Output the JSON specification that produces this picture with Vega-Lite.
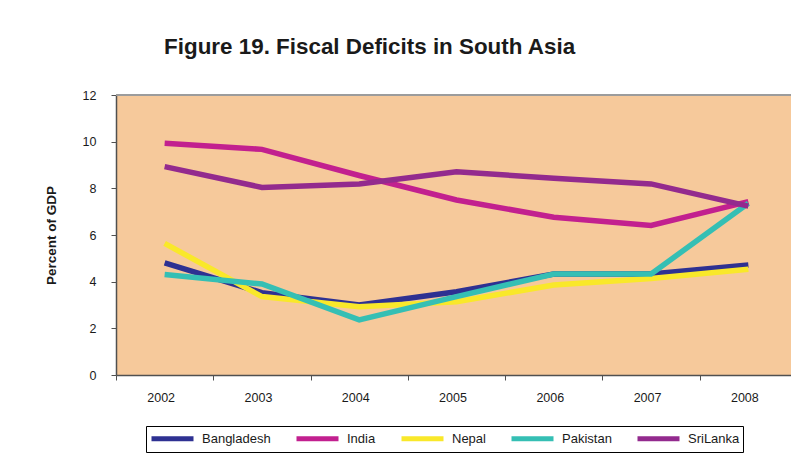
{
  "$schema": "https://vega.github.io/schema/vega-lite/v6.json",
  "width": 675,
  "height": 280,
  "autosize": {"type": "none"},
  "padding": {"left": 116, "top": 95, "right": 0, "bottom": 83},
  "background": "#ffffff",
  "title": {
    "text": "Figure 19. Fiscal Deficits in South Asia",
    "anchor": "start",
    "dx": 120,
    "offset": 31,
    "font": "Liberation Sans, Arial",
    "fontSize": 22.4,
    "fontWeight": "bold",
    "color": "#1a1a1a"
  },
  "config": {
    "view": {"stroke": null, "fill": "#F6C99B"},
    "font": "Liberation Sans, Arial"
  },
  "data": {
    "values": [
      {"year": "2002", "country": "Bangladesh", "value": 4.81},
      {"year": "2003", "country": "Bangladesh", "value": 3.53},
      {"year": "2004", "country": "Bangladesh", "value": 3.0},
      {"year": "2005", "country": "Bangladesh", "value": 3.57},
      {"year": "2006", "country": "Bangladesh", "value": 4.33},
      {"year": "2007", "country": "Bangladesh", "value": 4.33},
      {"year": "2008", "country": "Bangladesh", "value": 4.71},
      {"year": "2002", "country": "India", "value": 9.93},
      {"year": "2003", "country": "India", "value": 9.67},
      {"year": "2004", "country": "India", "value": 8.55},
      {"year": "2005", "country": "India", "value": 7.5},
      {"year": "2006", "country": "India", "value": 6.76},
      {"year": "2007", "country": "India", "value": 6.41},
      {"year": "2008", "country": "India", "value": 7.43},
      {"year": "2002", "country": "Nepal", "value": 5.64},
      {"year": "2003", "country": "Nepal", "value": 3.36},
      {"year": "2004", "country": "Nepal", "value": 2.93},
      {"year": "2005", "country": "Nepal", "value": 3.14},
      {"year": "2006", "country": "Nepal", "value": 3.86},
      {"year": "2007", "country": "Nepal", "value": 4.14},
      {"year": "2008", "country": "Nepal", "value": 4.53},
      {"year": "2002", "country": "Pakistan", "value": 4.31},
      {"year": "2003", "country": "Pakistan", "value": 3.9},
      {"year": "2004", "country": "Pakistan", "value": 2.36},
      {"year": "2005", "country": "Pakistan", "value": 3.36},
      {"year": "2006", "country": "Pakistan", "value": 4.33},
      {"year": "2007", "country": "Pakistan", "value": 4.33},
      {"year": "2008", "country": "Pakistan", "value": 7.36},
      {"year": "2002", "country": "SriLanka", "value": 8.93},
      {"year": "2003", "country": "SriLanka", "value": 8.04},
      {"year": "2004", "country": "SriLanka", "value": 8.19},
      {"year": "2005", "country": "SriLanka", "value": 8.71},
      {"year": "2006", "country": "SriLanka", "value": 8.43},
      {"year": "2007", "country": "SriLanka", "value": 8.19},
      {"year": "2008", "country": "SriLanka", "value": 7.24}
    ]
  },
  "layer": [
    {
      "mark": {"type": "rule", "color": "#9c9c9c", "strokeWidth": 2},
      "encoding": {"y": {"datum": 12, "type": "quantitative"}}
    },
    {
      "mark": {"type": "line", "strokeWidth": 5.5, "strokeCap": "butt", "strokeJoin": "miter"},
      "encoding": {
        "x": {
          "field": "year",
          "type": "ordinal",
          "scale": {"type": "band", "paddingInner": 0, "paddingOuter": 0, "range": [0, 681]},
          "axis": {
            "title": null,
            "labelAngle": 0,
            "tickBand": "extent",
            "domainColor": "#505050",
            "domainWidth": 1.5,
            "tickColor": "#505050",
            "tickWidth": 1,
            "tickSize": 5,
            "labelPadding": 11,
            "labelFontSize": 12.5,
            "labelColor": "#1a1a1a",
            "labelFont": "Liberation Sans, Arial",
            "labelOffset": -4
          }
        },
        "y": {
          "field": "value",
          "type": "quantitative",
          "scale": {"domain": [0, 12], "nice": false},
          "axis": {
            "title": "Percent of GDP",
            "titleFont": "Liberation Sans, Arial",
            "titleFontSize": 13.5,
            "titleFontWeight": "bold",
            "titleColor": "#1a1a1a",
            "titlePadding": 24,
            "values": [0, 2, 4, 6, 8, 10, 12],
            "grid": false,
            "domainColor": "#505050",
            "domainWidth": 1.5,
            "tickColor": "#505050",
            "tickWidth": 1,
            "tickSize": 5,
            "labelPadding": 15,
            "labelFontSize": 12.5,
            "labelColor": "#1a1a1a",
            "labelFont": "Liberation Sans, Arial"
          }
        },
        "color": {
          "field": "country",
          "type": "nominal",
          "scale": {
            "domain": ["Bangladesh", "India", "Nepal", "Pakistan", "SriLanka"],
            "range": ["#2E3192", "#C2208F", "#F9E82A", "#35BFB4", "#932A8E"]
          },
          "legend": {
            "title": null,
            "orient": "none",
            "legendX": 30,
            "legendY": 331,
            "direction": "horizontal",
            "columns": 5,
            "symbolType": "M-1,0H5",
            "symbolSize": 196,
            "symbolStrokeWidth": 5,
            "labelOffset": 34,
            "columnPadding": 15,
            "padding": 3,
            "strokeColor": "#000000",
            "labelFontSize": 13,
            "labelColor": "#1a1a1a",
            "labelFont": "Liberation Sans, Arial"
          }
        }
      }
    }
  ]
}
